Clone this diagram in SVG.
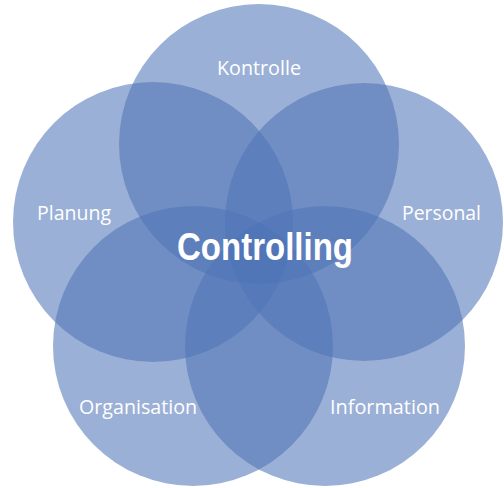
<svg xmlns="http://www.w3.org/2000/svg" width="504" height="488" viewBox="0 0 504 488">
<style>
.c{fill:#5074B7;fill-opacity:0.57}
.l{font-family:"Open Sans","Liberation Sans",sans-serif;font-size:19.5px;fill:#ffffff;text-anchor:middle}
.t{font-family:"Liberation Sans",Arial,sans-serif;font-weight:bold;font-size:38px;fill:#ffffff;text-anchor:middle}
</style>
<rect width="504" height="488" fill="#ffffff"/>
<g id="kontrolle"><circle class="c" cx="259" cy="144" r="140"/></g>
<g id="planung"><circle class="c" cx="153" cy="222" r="140"/></g>
<g id="personal"><circle class="c" cx="364" cy="222" r="139"/></g>
<g id="organisation"><circle class="c" cx="193" cy="346" r="140"/></g>
<g id="information"><circle class="c" cx="325" cy="346" r="140"/></g>
<g id="labels">
<text class="l" x="259" y="75" textLength="84" lengthAdjust="spacingAndGlyphs">Kontrolle</text>
<text class="l" x="74" y="220" textLength="74" lengthAdjust="spacingAndGlyphs">Planung</text>
<text class="l" x="441.5" y="220" textLength="79" lengthAdjust="spacingAndGlyphs">Personal</text>
<text class="l" x="138" y="414" textLength="118" lengthAdjust="spacingAndGlyphs">Organisation</text>
<text class="l" x="385" y="414" textLength="110" lengthAdjust="spacingAndGlyphs">Information</text>
</g>
<g id="controlling"><text class="t" x="265" y="260" textLength="176" lengthAdjust="spacingAndGlyphs">Controlling</text></g>
<g id="connectors"></g>
</svg>
